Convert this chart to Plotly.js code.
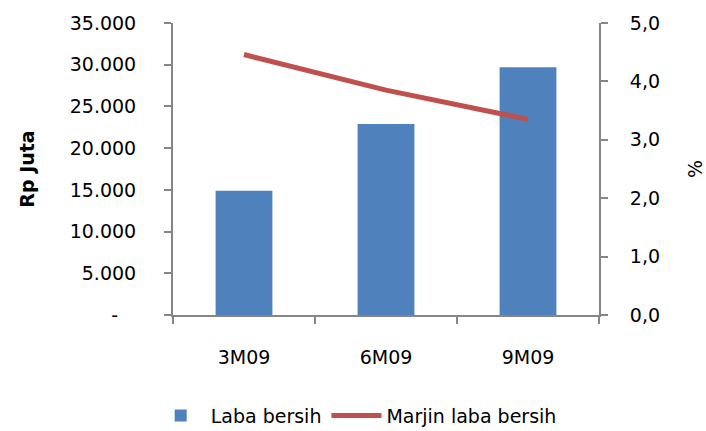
<!DOCTYPE html>
<html><head><meta charset="utf-8">
<script src="https://cdn.plot.ly/plotly-3.0.1.min.js"></script>
<style>body{margin:0;background:#fff}#c{width:706px;height:431px}</style>
</head><body><div id="c"></div>
<script>
const categories = ["3M09", "6M09", "9M09"];
const labaBersih = [14900, 22900, 29700];
const marjin = [4.46, 3.85, 3.35];
const leftTickVals = [0, 5000, 10000, 15000, 20000, 25000, 30000, 35000];
const leftTickText = ["-\u00a0\u00a0\u00a0", "5.000", "10.000", "15.000", "20.000", "25.000", "30.000", "35.000"];
const rightTickVals = [0, 1, 2, 3, 4, 5];
const rightTickText = ["0,0", "1,0", "2,0", "3,0", "4,0", "5,0"];

const font = {family: "'DejaVu Sans', sans-serif", size: 19, color: "#000"};
const axisCol = "#868686";

const data = [
  {type: "bar", x: categories, y: labaBersih, name: "Laba bersih",
   marker: {color: "#4f81bd"}, hoverinfo: "none"},
  {type: "scatter", mode: "lines", x: categories, y: marjin, yaxis: "y2",
   name: "Marjin laba bersih", line: {color: "#c0504d", width: 5}, hoverinfo: "none"}
];

const layout = {
  width: 706, height: 431,
  margin: {l: 173, r: 107, t: 23, b: 116, autoexpand: false},
  paper_bgcolor: "#fff", plot_bgcolor: "#fff",
  font: font,
  bargap: 0.6,
  showlegend: true,
  legend: {orientation: "h", x: 0.43, xanchor: "center", y: -0.28, yanchor: "top",
           font: font, traceorder: "normal", itemwidth: 50},
  xaxis: {showline: true, linecolor: axisCol, linewidth: 2, showgrid: false,
          ticks: "outside", ticklen: 7, tickcolor: axisCol, tickwidth: 2,
          tickson: "boundaries", ticklabelstandoff: 24, zeroline: false},
  yaxis: {range: [0, 35000], tickvals: leftTickVals, ticktext: leftTickText,
          showline: true, linecolor: axisCol, linewidth: 2, showgrid: false,
          ticks: "outside", ticklen: 7, tickcolor: axisCol, tickwidth: 2,
          zeroline: false, ticklabelstandoff: 24,
          title: {text: "<b>Rp Juta</b>", font: font, standoff: 30}},
  yaxis2: {range: [0, 5], overlaying: "y", side: "right",
           tickvals: rightTickVals, ticktext: rightTickText,
           showline: true, linecolor: axisCol, linewidth: 2, showgrid: false,
           ticks: "outside", ticklen: 7, tickcolor: axisCol, tickwidth: 2,
           zeroline: false, ticklabelstandoff: 18,
           title: {text: "%", font: font, standoff: 30}}
};

Plotly.newPlot("c", data, layout, {displayModeBar: false, staticPlot: true});
</script>
</body></html>
